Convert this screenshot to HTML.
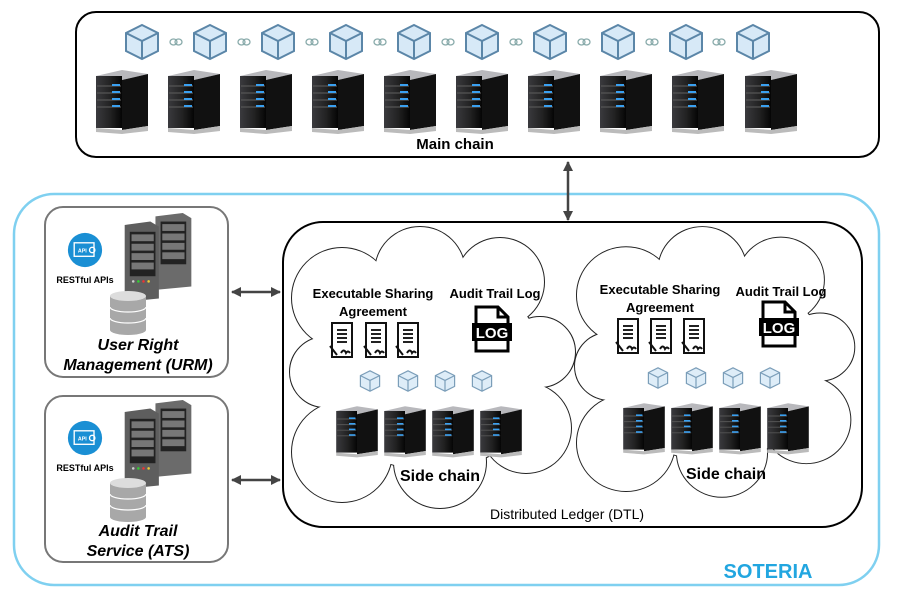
<!DOCTYPE html>
<html><head><meta charset="utf-8"><style>
html,body{margin:0;padding:0;background:#fff}
svg{display:block}
text{font-family:"Liberation Sans",sans-serif;font-weight:bold}
</style></head><body>
<svg width="899" height="598" viewBox="0 0 899 598" xmlns="http://www.w3.org/2000/svg">
<defs>
<symbol id="cube" viewBox="0 0 40 40">
<path d="M20 3 L36 11 L36 29 L20 37 L4 29 L4 11 Z" fill="#d7e9f7" stroke="#5b86a8" stroke-width="2"/>
<path d="M4 11 L20 19 L36 11 M20 19 L20 37" fill="none" stroke="#5b86a8" stroke-width="2"/>
</symbol>
<symbol id="link" viewBox="0 0 14 8">
<ellipse cx="4.5" cy="4" rx="3.5" ry="3" fill="none" stroke="#8aa" stroke-width="1.3"/>
<ellipse cx="9.5" cy="4" rx="3.5" ry="3" fill="none" stroke="#8aa" stroke-width="1.3"/>
</symbol>
<linearGradient id="sg" x1="0" x2="1"><stop offset="0" stop-color="#3a3a3e"/><stop offset="0.55" stop-color="#222"/><stop offset="1" stop-color="#050505"/></linearGradient>
<symbol id="server" viewBox="0 0 60 66">
<path d="M4 8 L30 2 L56 6 L30 12 Z" fill="#b8b8bc"/>
<rect x="4" y="8" width="26" height="52" fill="url(#sg)"/>
<path d="M30 12 L56 6 L56 58 L30 62 Z" fill="#111"/>
<g stroke="#555" stroke-width="1.2"><line x1="5" y1="18" x2="29" y2="18"/><line x1="5" y1="25" x2="29" y2="25"/><line x1="5" y1="32" x2="29" y2="32"/><line x1="5" y1="39" x2="29" y2="39"/></g>
<g fill="#3aa0f0"><rect x="20" y="16" width="8" height="2"/><rect x="20" y="23" width="8" height="2"/><rect x="20" y="30" width="8" height="2"/><rect x="20" y="37" width="8" height="2"/></g>
<path d="M4 60 L30 62 L56 58 L56 63 L30 66 L4 64 Z" fill="#bbb"/>
</symbol>
<symbol id="doc" viewBox="0 0 26 38">
<rect x="4" y="1" width="20" height="34" fill="#fff" stroke="#111" stroke-width="2"/>
<g stroke="#222" stroke-width="2"><line x1="9" y1="8" x2="19" y2="8"/><line x1="9" y1="12" x2="19" y2="12"/><line x1="9" y1="16" x2="19" y2="16"/><line x1="9" y1="20" x2="19" y2="20"/></g>
<path d="M2 24 L9 33 M13 31 q3 -5 5 0 q2 -3 4 0" fill="none" stroke="#111" stroke-width="2"/>
</symbol>
<symbol id="log" viewBox="0 0 40 48">
<path d="M4 2 L26 2 L36 12 L36 46 L4 46 Z" fill="#fff" stroke="#000" stroke-width="3"/>
<path d="M26 2 L26 12 L36 12" fill="none" stroke="#000" stroke-width="3"/>
<rect x="0" y="18" width="40" height="18" fill="#000"/>
<text x="20" y="33" font-size="15" fill="#fff" text-anchor="middle">LOG</text>
</symbol>
<symbol id="rack" viewBox="0 0 100 110">
<path d="M40 4 L72 0 L82 6 L82 86 L40 90 Z" fill="#6b6b6b"/>
<rect x="46" y="10" width="30" height="50" fill="#222"/>
<g fill="#777"><rect x="48" y="13" width="26" height="8"/><rect x="48" y="24" width="26" height="8"/><rect x="48" y="35" width="26" height="8"/><rect x="48" y="46" width="26" height="8"/></g>
<path d="M4 14 L34 10 L44 16 L44 100 L4 104 Z" fill="#5e5e5e"/>
<rect x="10" y="22" width="30" height="52" fill="#222"/>
<g fill="#777"><rect x="12" y="25" width="26" height="8"/><rect x="12" y="36" width="26" height="8"/><rect x="12" y="47" width="26" height="8"/><rect x="12" y="58" width="26" height="8"/></g>
<circle cx="14" cy="80" r="1.5" fill="#ccc"/><circle cx="20" cy="80" r="1.5" fill="#3c3"/><circle cx="26" cy="80" r="1.5" fill="#e33"/><circle cx="32" cy="80" r="1.5" fill="#ec3"/>
</symbol>
<symbol id="db" viewBox="0 0 40 46">
<path d="M2 6 L2 40 A18 5 0 0 0 38 40 L38 6 Z" fill="#a8a8a8"/>
<ellipse cx="20" cy="6" rx="18" ry="5" fill="#ddd"/>
<g fill="none" stroke="#fff" stroke-width="1.2"><path d="M2 17 A18 5 0 0 0 38 17"/><path d="M2 28 A18 5 0 0 0 38 28"/></g>
</symbol>
<symbol id="api" viewBox="0 0 40 40">
<circle cx="20" cy="20" r="19" fill="#1a8fd4"/>
<rect x="8" y="12" width="22" height="15" fill="none" stroke="#fff" stroke-width="1.5"/>
<text x="17" y="23" font-size="6" fill="#fff" text-anchor="middle">API</text>
<circle cx="28" cy="20" r="3" fill="none" stroke="#fff" stroke-width="1.5"/>
</symbol>
<marker id="ah" viewBox="0 0 10 10" refX="9" refY="5" markerWidth="4" markerHeight="4" orient="auto-start-reverse"><path d="M0 0 L10 5 L0 10 Z" fill="#444"/></marker>
<g id="cloudc">
<circle cx="342" cy="298" r="50"/>
<circle cx="420" cy="272" r="45"/>
<circle cx="500" cy="282" r="44"/>
<circle cx="540" cy="352" r="35"/>
<circle cx="526" cy="428" r="45"/>
<circle cx="440" cy="462" r="46"/>
<circle cx="342" cy="452" r="50"/>
<circle cx="325" cy="372" r="35"/>
<ellipse cx="430" cy="370" rx="115" ry="100"/>
</g>
</defs>

<!-- Main chain -->
<rect x="76" y="12" width="803" height="145" rx="20" fill="#fff" stroke="#000" stroke-width="2"/>
<g>
<use href="#cube" x="122" y="22" width="40" height="40"/><use href="#cube" x="190" y="22" width="40" height="40"/><use href="#cube" x="258" y="22" width="40" height="40"/><use href="#cube" x="326" y="22" width="40" height="40"/><use href="#cube" x="394" y="22" width="40" height="40"/><use href="#cube" x="462" y="22" width="40" height="40"/><use href="#cube" x="530" y="22" width="40" height="40"/><use href="#cube" x="598" y="22" width="40" height="40"/><use href="#cube" x="666" y="22" width="40" height="40"/><use href="#cube" x="733" y="22" width="40" height="40"/>
<use href="#link" x="169" y="38" width="14" height="8"/><use href="#link" x="237" y="38" width="14" height="8"/><use href="#link" x="305" y="38" width="14" height="8"/><use href="#link" x="373" y="38" width="14" height="8"/><use href="#link" x="441" y="38" width="14" height="8"/><use href="#link" x="509" y="38" width="14" height="8"/><use href="#link" x="577" y="38" width="14" height="8"/><use href="#link" x="645" y="38" width="14" height="8"/><use href="#link" x="712" y="38" width="14" height="8"/>
</g>
<g>
<use href="#server" x="92" y="68" width="60" height="66"/><use href="#server" x="164" y="68" width="60" height="66"/><use href="#server" x="236" y="68" width="60" height="66"/><use href="#server" x="308" y="68" width="60" height="66"/><use href="#server" x="380" y="68" width="60" height="66"/><use href="#server" x="452" y="68" width="60" height="66"/><use href="#server" x="524" y="68" width="60" height="66"/><use href="#server" x="596" y="68" width="60" height="66"/><use href="#server" x="668" y="68" width="60" height="66"/><use href="#server" x="741" y="68" width="60" height="66"/>
</g>
<text x="455" y="149" font-size="15" text-anchor="middle">Main chain</text>

<!-- SOTERIA -->
<rect x="14" y="194" width="865" height="391" rx="40" fill="none" stroke="#7fd0f0" stroke-width="2.5"/>
<line x1="568" y1="162" x2="568" y2="220" stroke="#444" stroke-width="2.5" marker-start="url(#ah)" marker-end="url(#ah)"/>
<text x="768" y="578" font-size="20" fill="#22a6e0" text-anchor="middle">SOTERIA</text>

<!-- DTL -->
<rect x="283" y="222" width="579" height="305" rx="40" fill="#fff" stroke="#000" stroke-width="2"/>
<text x="567" y="519" font-size="14" text-anchor="middle" style="font-weight:normal">Distributed Ledger (DTL)</text>

<!-- Clouds: strokes then white fill -->
<g stroke="#222" stroke-width="2" fill="#fff"><use href="#cloudc"/></g>
<g fill="#fff" stroke="none"><use href="#cloudc"/></g>
<g transform="translate(575,228) scale(0.98,0.96) translate(-290,-228)">
<g stroke="#222" stroke-width="2" fill="#fff"><use href="#cloudc"/></g>
<g fill="#fff" stroke="none"><use href="#cloudc"/></g>
</g>

<!-- Left cloud content -->
<text x="373" y="298" font-size="13" text-anchor="middle">Executable Sharing</text>
<text x="373" y="316" font-size="13" text-anchor="middle">Agreement</text>
<text x="495" y="298" font-size="13" text-anchor="middle">Audit Trail Log</text>
<use href="#doc" x="328" y="322" width="26" height="38"/><use href="#doc" x="362" y="322" width="26" height="38"/><use href="#doc" x="394" y="322" width="26" height="38"/>
<use href="#log" x="472" y="305" width="40" height="48"/>
<g opacity="0.8"><use href="#cube" x="358" y="366" width="24" height="30"/><use href="#cube" x="396" y="366" width="24" height="30"/><use href="#cube" x="433" y="366" width="24" height="30"/><use href="#cube" x="470" y="366" width="24" height="30"/></g>
<use href="#server" x="333" y="403" width="48" height="56"/><use href="#server" x="381" y="403" width="48" height="56"/><use href="#server" x="429" y="403" width="48" height="56"/><use href="#server" x="477" y="403" width="48" height="56"/>
<text x="440" y="481" font-size="16" text-anchor="middle">Side chain</text>

<!-- Right cloud content -->
<text x="660" y="294" font-size="13" text-anchor="middle">Executable Sharing</text>
<text x="660" y="312" font-size="13" text-anchor="middle">Agreement</text>
<text x="781" y="296" font-size="13" text-anchor="middle">Audit Trail Log</text>
<use href="#doc" x="614" y="318" width="26" height="38"/><use href="#doc" x="647" y="318" width="26" height="38"/><use href="#doc" x="680" y="318" width="26" height="38"/>
<use href="#log" x="759" y="300" width="40" height="48"/>
<g opacity="0.8"><use href="#cube" x="646" y="363" width="24" height="30"/><use href="#cube" x="684" y="363" width="24" height="30"/><use href="#cube" x="721" y="363" width="24" height="30"/><use href="#cube" x="758" y="363" width="24" height="30"/></g>
<use href="#server" x="620" y="400" width="48" height="56"/><use href="#server" x="668" y="400" width="48" height="56"/><use href="#server" x="716" y="400" width="48" height="56"/><use href="#server" x="764" y="400" width="48" height="56"/>
<text x="726" y="479" font-size="16" text-anchor="middle">Side chain</text>

<!-- URM -->
<rect x="45" y="207" width="183" height="170" rx="18" fill="#fff" stroke="#777" stroke-width="2"/>
<use href="#api" x="67" y="232" width="36" height="36"/>
<text x="85" y="283" font-size="9" text-anchor="middle">RESTful APIs</text>
<use href="#rack" x="121" y="213" width="86" height="94"/>
<use href="#db" x="108" y="290" width="40" height="46"/>
<text x="138" y="350" font-size="16" font-style="italic" text-anchor="middle">User Right</text>
<text x="138" y="370" font-size="16" font-style="italic" text-anchor="middle">Management (URM)</text>
<line x1="232" y1="292" x2="280" y2="292" stroke="#444" stroke-width="2.5" marker-start="url(#ah)" marker-end="url(#ah)"/>

<!-- ATS -->
<rect x="45" y="396" width="183" height="166" rx="18" fill="#fff" stroke="#777" stroke-width="2"/>
<use href="#api" x="67" y="420" width="36" height="36"/>
<text x="85" y="471" font-size="9" text-anchor="middle">RESTful APIs</text>
<use href="#rack" x="121" y="400" width="86" height="94"/>
<use href="#db" x="108" y="477" width="40" height="46"/>
<text x="138" y="536" font-size="16" font-style="italic" text-anchor="middle">Audit Trail</text>
<text x="138" y="556" font-size="16" font-style="italic" text-anchor="middle">Service (ATS)</text>
<line x1="232" y1="480" x2="280" y2="480" stroke="#444" stroke-width="2.5" marker-start="url(#ah)" marker-end="url(#ah)"/>
</svg>
</body></html>
